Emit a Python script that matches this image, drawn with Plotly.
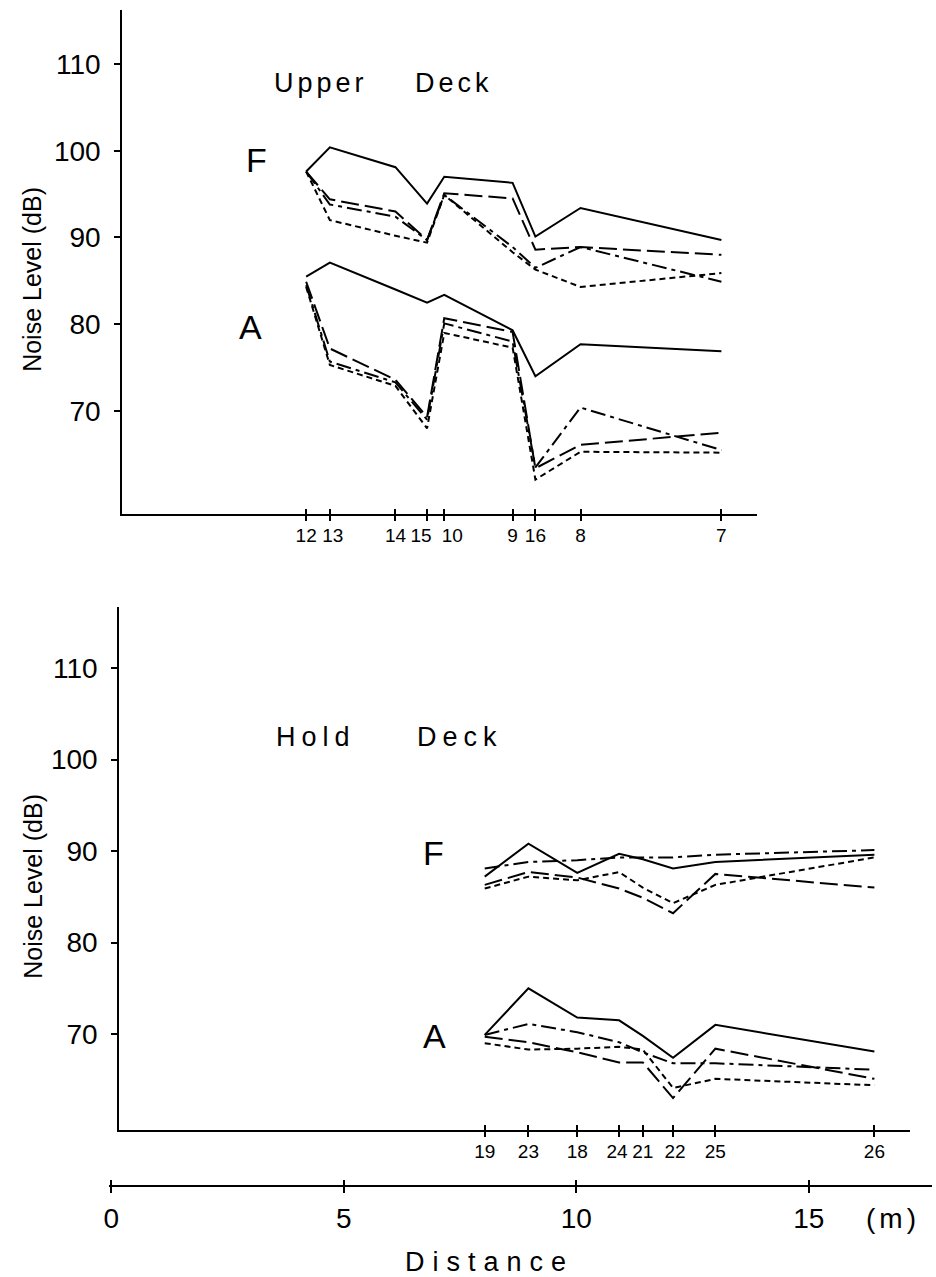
import plotly.graph_objects as go

W, H = 936, 1277
FONT = "Liberation Sans, Arial, sans-serif"

# ---------------- data: Upper Deck ----------------
upper_locations = ["12", "13", "14", "15", "10", "9", "16", "8", "7"]
upper_distance_m = [4.19, 4.70, 6.11, 6.79, 7.16, 8.63, 9.12, 10.09, 13.12]

upper_F_solid = [97.6, 100.4, 98.1, 93.9, 97.0, 96.3, 90.1, 93.4, 89.7]
upper_F_longdash = [97.6, 94.4, 93.0, 89.7, 95.1, 94.5, 88.6, 88.9, 88.0]
upper_F_dashdot = [97.6, 93.8, 92.4, 89.7, 94.9, 88.9, 86.5, 88.9, 84.9]
upper_F_shortdash = [97.6, 92.0, 90.2, 89.4, 94.9, 88.3, 86.3, 84.3, 85.9]

upper_A_solid = [85.5, 87.1, 84.0, 82.5, 83.4, 79.3, 74.0, 77.7, 76.9]
upper_A_longdash = [84.9, 77.2, 73.6, 69.3, 80.7, 79.1, 63.4, 66.1, 67.5]
upper_A_dashdot = [84.5, 75.7, 73.3, 69.0, 80.1, 78.0, 63.5, 70.4, 65.5]
upper_A_shortdash = [84.3, 75.3, 72.9, 68.0, 79.0, 77.3, 62.1, 65.3, 65.2]

# ---------------- data: Hold Deck ----------------
hold_locations = ["19", "23", "18", "24", "21", "22", "25", "26"]
hold_distance_m = [8.03, 8.97, 10.02, 10.92, 11.43, 12.08, 12.99, 16.41]

hold_F_solid = [87.2, 90.8, 87.6, 89.7, 89.1, 88.1, 88.8, 89.6]
hold_F_dashdot = [88.1, 88.8, 89.0, 89.3, 89.3, 89.3, 89.6, 90.1]
hold_F_longdash = [86.3, 87.7, 87.1, 85.9, 84.9, 83.2, 87.5, 86.0]
hold_F_shortdash = [85.9, 87.2, 86.8, 87.7, 86.0, 84.3, 86.3, 89.3]

hold_A_solid = [69.9, 75.0, 71.8, 71.5, 69.8, 67.4, 71.0, 68.1]
hold_A_dashdot = [69.9, 71.1, 70.2, 69.1, 68.0, 66.8, 66.8, 66.1]
hold_A_longdash = [69.7, 69.1, 68.0, 66.9, 66.9, 63.0, 68.4, 65.1]
hold_A_shortdash = [69.0, 68.3, 68.4, 68.6, 68.3, 64.1, 65.1, 64.4]

noise_ticks = [70, 80, 90, 100, 110]
distance_ticks = [0, 5, 10, 15]
distance_ticktext = ["0", "5", "10", "15"]

# ---------------- styling ----------------
DASH = {
    "solid": "solid",
    "longdash": "18px,6px",
    "dashdot": "15px,5px,4px,5px",
    "shortdash": "6px,4px",
}
LW = 2

X0_PX, PX_PER_M = 106.0, 46.8

# crowded location labels are set slightly apart from their ticks (pixels)
upper_label_nudge_px = {"13": 3, "15": -6, "10": 8}
hold_label_nudge_px = {"24": -2, "22": 2}


def nudged(positions, labels, nudge):
    return [p + nudge.get(s, 0) / PX_PER_M for p, s in zip(positions, labels)]


def xdom(l, r):
    return [l / W, r / W]


def ydom(top, bottom):
    return [1 - bottom / H, 1 - top / H]


def xrange_px(l, r):
    return [(l - X0_PX) / PX_PER_M, (r - X0_PX) / PX_PER_M]


fig = go.Figure()

upper_series = [
    (upper_F_solid, "solid"), (upper_F_longdash, "longdash"),
    (upper_F_dashdot, "dashdot"), (upper_F_shortdash, "shortdash"),
    (upper_A_solid, "solid"), (upper_A_longdash, "longdash"),
    (upper_A_dashdot, "dashdot"), (upper_A_shortdash, "shortdash"),
]
for vals, st in upper_series:
    fig.add_trace(go.Scatter(x=upper_distance_m, y=vals, mode="lines",
                             line=dict(color="black", width=LW, dash=DASH[st]),
                             xaxis="x", yaxis="y", hoverinfo="skip"))

hold_series = [
    (hold_F_solid, "solid"), (hold_F_dashdot, "dashdot"),
    (hold_F_longdash, "longdash"), (hold_F_shortdash, "shortdash"),
    (hold_A_solid, "solid"), (hold_A_dashdot, "dashdot"),
    (hold_A_longdash, "longdash"), (hold_A_shortdash, "shortdash"),
]
for vals, st in hold_series:
    fig.add_trace(go.Scatter(x=hold_distance_m, y=vals, mode="lines",
                             line=dict(color="black", width=LW, dash=DASH[st]),
                             xaxis="x2", yaxis="y2", hoverinfo="skip"))

# invisible anchor traces so that the extra axes get drawn
for xa, ya, xv, yv in [("x3", "y3", distance_ticks[:1], [0.5]),
                       ("x6", "y3", distance_ticks[:1], [0.5]),
                       ("x4", "y", upper_distance_m[:1], upper_F_solid[:1]),
                       ("x7", "y", upper_distance_m[:1], upper_F_solid[:1]),
                       ("x5", "y2", hold_distance_m[:1], hold_F_solid[:1]),
                       ("x8", "y2", hold_distance_m[:1], hold_F_solid[:1])]:
    fig.add_trace(go.Scatter(x=xv, y=yv, mode="markers", xaxis=xa, yaxis=ya,
                             marker=dict(size=1, opacity=0), hoverinfo="skip"))

common_axis = dict(showgrid=False, zeroline=False, showline=True,
                   linecolor="black", linewidth=2, tickcolor="black",
                   tickwidth=2, fixedrange=True)
inner_ticks = dict(ticks="inside", ticklen=5, showticklabels=False,
                   showgrid=False, zeroline=False, showline=False,
                   tickcolor="black", tickwidth=2, fixedrange=True)
label_only = dict(ticks="", showgrid=False, zeroline=False, showline=False,
                  tickangle=0, ticklabelstandoff=8, fixedrange=True,
                  tickfont=dict(size=19, family=FONT, color="black"))

up_xr = xrange_px(117, 756)
lo_xr = xrange_px(114, 910)
ds_xr = xrange_px(104, 932)

fig.update_layout(
    width=W, height=H, margin=dict(l=0, r=0, t=0, b=0),
    paper_bgcolor="white", plot_bgcolor="rgba(0,0,0,0)", showlegend=False,
    # upper deck: line + outside ticks, inside ticks, labels
    xaxis=dict(domain=xdom(117, 756), range=up_xr, anchor="y",
               tickvals=upper_distance_m, showticklabels=False,
               ticks="outside", ticklen=5, **common_axis),
    xaxis4=dict(range=up_xr, anchor="y", overlaying="x",
                tickvals=upper_distance_m, **inner_ticks),
    xaxis7=dict(range=up_xr, anchor="y", overlaying="x", side="bottom",
                tickvals=nudged(upper_distance_m, upper_locations, upper_label_nudge_px),
                ticktext=upper_locations, **label_only),
    yaxis=dict(domain=ydom(10, 514), range=[58.13, 116.22], anchor="x",
               tickvals=noise_ticks, ticks="outside", ticklen=6,
               ticklabelstandoff=8,
               tickfont=dict(size=28, family=FONT, color="black"), **common_axis),
    # hold deck
    xaxis2=dict(domain=xdom(114, 910), range=lo_xr, anchor="y2",
                tickvals=hold_distance_m, showticklabels=False,
                ticks="outside", ticklen=5, **common_axis),
    xaxis5=dict(range=lo_xr, anchor="y2", overlaying="x2",
                tickvals=hold_distance_m, **inner_ticks),
    xaxis8=dict(range=lo_xr, anchor="y2", overlaying="x2", side="bottom",
                tickvals=nudged(hold_distance_m, hold_locations, hold_label_nudge_px),
                ticktext=hold_locations, **label_only),
    yaxis2=dict(domain=ydom(607, 1130), range=[59.51, 116.67], anchor="x2",
                tickvals=noise_ticks, ticks="outside", ticklen=6,
                ticklabelstandoff=8,
                tickfont=dict(size=28, family=FONT, color="black"), **common_axis),
    # common distance scale
    xaxis3=dict(domain=xdom(104, 932), range=ds_xr, anchor="y3",
                tickvals=distance_ticks, ticktext=distance_ticktext,
                ticks="outside", ticklen=6, tickangle=0,
                ticklabelstandoff=1,
                tickfont=dict(size=28, family=FONT, color="black"), **common_axis),
    xaxis6=dict(range=ds_xr, anchor="y3", overlaying="x3",
                tickvals=distance_ticks, **inner_ticks),
    yaxis3=dict(domain=ydom(1178, 1185), range=[0, 1], anchor="x3",
                visible=False, fixedrange=True),
)

ann = []


def add_text(text, xpx, ypx, size, xanchor="center", angle=0, spacing=None):
    t = text
    if spacing:
        t = '<span style="letter-spacing:%dpx">%s</span>' % (spacing, text)
    ann.append(dict(text=t, x=xpx / W, y=1 - ypx / H, xref="paper", yref="paper",
                    xanchor=xanchor, yanchor="middle", showarrow=False,
                    textangle=angle, font=dict(size=size, family=FONT, color="black")))


add_text("Upper", 268, 83, 27, xanchor="left", spacing=4)
add_text("Deck", 410, 83, 27, xanchor="left", spacing=4)
add_text("Hold", 270, 737, 27, xanchor="left", spacing=6)
add_text("Deck", 412, 737, 27, xanchor="left", spacing=6)
add_text("F", 252, 160, 34)
add_text("A", 246, 327, 34)
add_text("F", 430, 853, 34)
add_text("A", 431, 1036, 34)
add_text("Noise Level (dB)", 26, 279, 25, angle=-90)
add_text("Noise Level (dB)", 27, 886, 25, angle=-90)
add_text("(m)", 893, 1218, 28, spacing=4)
add_text("Distance", 400, 1262, 27, xanchor="left", spacing=8)

fig.update_layout(annotations=ann)
fig.write_html("out.html")
